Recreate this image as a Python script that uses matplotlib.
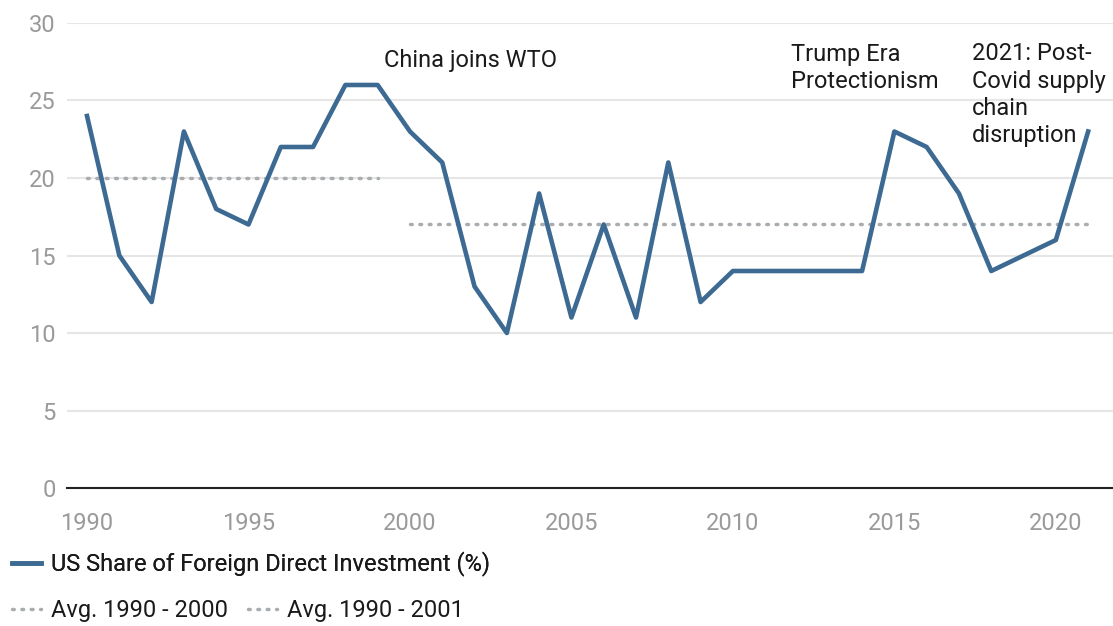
import matplotlib
matplotlib.use("Agg")
import matplotlib.pyplot as plt
from matplotlib.lines import Line2D

plt.rcParams['font.family'] = ['Roboto', 'DejaVu Sans']

years = list(range(1990, 2022))
fdi_share = [24, 15, 12, 23, 18, 17, 22, 22, 26, 26, 23, 21, 13, 10, 19, 11,
             17, 11, 21, 12, 14, 14, 14, 14, 14, 23, 22, 19, 14, 15, 16, 23]

avg_early_years = [1990, 1999]
avg_early_value = 20
avg_late_years = [2000, 2021]
avg_late_value = 17

annotations = [
    ("China joins WTO", 1999.2, 28.35),
    ("Trump Era\nProtectionism", 2011.8, 28.7),
    ("2021: Post-\nCovid supply\nchain\ndisruption", 2017.4, 28.75),
]

x_ticks = [1990, 1995, 2000, 2005, 2010, 2015, 2020]
y_ticks = [0, 5, 10, 15, 20, 25, 30]

line_color = "#3d6a92"
avg_color = "#a9adb0"
tick_color = "#9a9a9a"
text_color = "#1a1a1a"
fs = 17

fig = plt.figure(figsize=(11.13, 6.26), dpi=100)
ax = fig.add_axes([0.0602, 0.2204, 0.9398, 0.7429])

dots = (0, (0.5, 2.2))
ax.plot(avg_early_years, [avg_early_value] * 2, color=avg_color, lw=2.5,
        linestyle=dots, dash_capstyle='round', zorder=2)
ax.plot(avg_late_years, [avg_late_value] * 2, color=avg_color, lw=2.5,
        linestyle=dots, dash_capstyle='round', zorder=2)
ax.plot(years, fdi_share, color=line_color, lw=3.3, zorder=3)

for text, x, y in annotations:
    ax.text(x, y, text, fontsize=fs, color=text_color, ha='left', va='top',
            linespacing=1.24, zorder=4)

ax.set_xlim(1989.38, 2021.77)
ax.set_ylim(0, 30)
ax.set_xticks(x_ticks)
ax.set_yticks(y_ticks)
ax.tick_params(axis='both', length=0, colors=tick_color, labelsize=fs)
ax.tick_params(axis='x', pad=17)
ax.tick_params(axis='y', pad=8)

ax.grid(axis='y', color="#e6e6e6", lw=1.5)
ax.set_axisbelow(True)
for s in ['top', 'right', 'left']:
    ax.spines[s].set_visible(False)
ax.spines['bottom'].set_color("#222222")
ax.spines['bottom'].set_linewidth(1.5)
ax.spines['bottom'].set_zorder(5)

h1 = [Line2D([0], [0], color=line_color, lw=3.3)]
leg1 = fig.legend(h1, ["US Share of Foreign Direct Investment (%)"],
                  loc='center left', bbox_to_anchor=(0.011, 0.099), frameon=False,
                  fontsize=fs, handlelength=1.2, handletextpad=0.45,
                  borderaxespad=0, borderpad=0, labelcolor=text_color)
h2 = [Line2D([0], [0], color=avg_color, lw=2.5, linestyle=dots,
             dash_capstyle='round') for _ in range(2)]
leg2 = fig.legend(h2, ["Avg. 1990 - 2000", "Avg. 1990 - 2001"],
                  loc='center left', bbox_to_anchor=(0.011, 0.025), frameon=False,
                  ncol=2, fontsize=fs, handlelength=1.2, handletextpad=0.45,
                  columnspacing=0.85, borderaxespad=0, borderpad=0,
                  labelcolor=text_color)
fig.add_artist(leg1)

fig.savefig("out.png", dpi=100)
